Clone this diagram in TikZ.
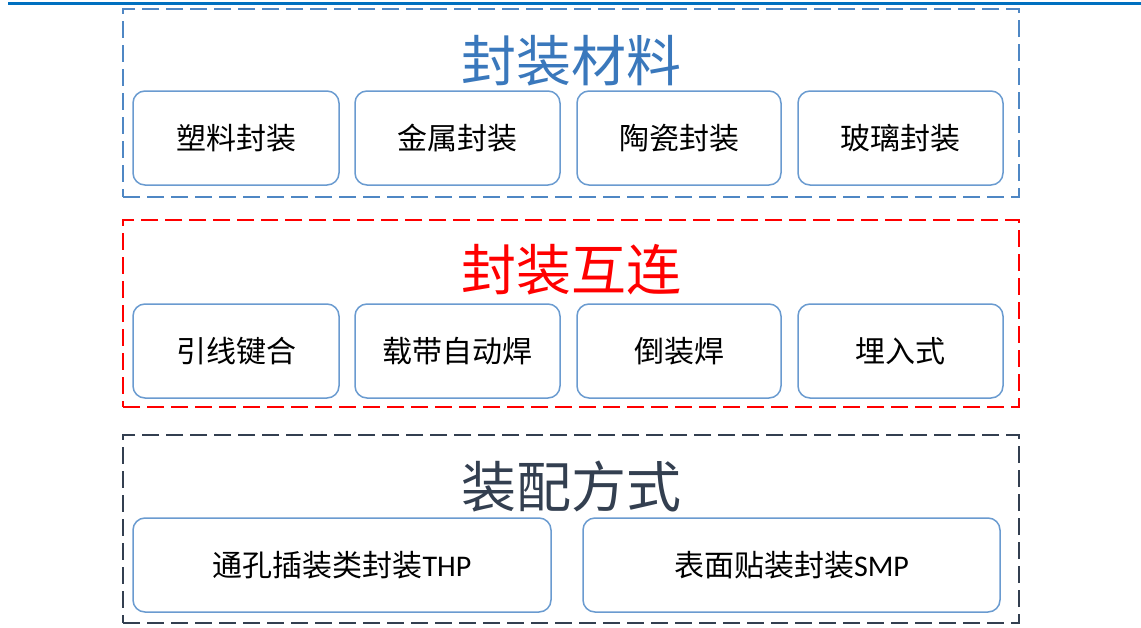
\documentclass[tikz,border=0pt]{standalone}
\usepackage{fontspec}
\setmainfont{Carlito}
\newfontfamily\cjk{Noto Sans CJK SC}
\begin{document}
\begin{tikzpicture}[x=1pt,y=-1pt,
  grp/.style={line width=2.7pt, dash pattern=on 17pt off 7pt},
  item/.style={draw=itemc, line width=1.5pt, rounded corners=12pt, fill=white, inner sep=0pt, font=\cjk\fontsize{30}{34}\selectfont, text=black},
  ttl/.style={font=\cjk\fontsize{55}{60}\selectfont, inner sep=0pt}]
\definecolor{topline}{HTML}{0070C0}
\definecolor{bluec}{HTML}{4F87C4}
\definecolor{itemc}{HTML}{6A9BD0}
\definecolor{titleblue}{HTML}{3A78BC}
\definecolor{darkc}{HTML}{333F50}
\useasboundingbox (0,0) rectangle (1141,627);
\fill[white] (0,0) rectangle (1141,627);
\coordinate (tl) at (8,3);
\coordinate (tr) at (1141,3);
\draw[topline, line width=3pt] (tl) -- (tr);
% group boxes
\node[draw=bluec, grp, minimum width=896pt, minimum height=188pt, inner sep=0pt] (g1) at (571,103) {};
\node[draw=red, grp, minimum width=896pt, minimum height=187pt, inner sep=0pt] (g2) at (571,313.5) {};
\node[draw=darkc, grp, minimum width=896pt, minimum height=188pt, inner sep=0pt] (g3) at (571,529) {};
% titles
\node[ttl, text=titleblue] (t1) at (571,61) {封装材料};
\node[ttl, text=red] (t2) at (571,270) {封装互连};
\node[ttl, text=darkc] (t3) at (571,487) {装配方式};
% row 1
\node[item, minimum width=206pt, minimum height=94pt] (a1) at (236,138) {塑料封装};
\node[item, minimum width=205pt, minimum height=94pt] (a2) at (457.5,138) {金属封装};
\node[item, minimum width=204pt, minimum height=94pt] (a3) at (679,138) {陶瓷封装};
\node[item, minimum width=205pt, minimum height=94pt] (a4) at (900.5,138) {玻璃封装};
% row 2
\node[item, minimum width=206pt, minimum height=94pt] (b1) at (236,351) {引线键合};
\node[item, minimum width=205pt, minimum height=94pt] (b2) at (457.5,351) {载带自动焊};
\node[item, minimum width=204pt, minimum height=94pt] (b3) at (679,351) {倒装焊};
\node[item, minimum width=205pt, minimum height=94pt] (b4) at (900.5,351) {埋入式};
% row 3
\node[item, minimum width=418pt, minimum height=94pt] (c1) at (342,565) {通孔插装类封装{\rmfamily THP}};
\node[item, minimum width=417pt, minimum height=94pt] (c2) at (791.5,565) {表面贴装封装{\rmfamily SMP}};
\end{tikzpicture}
\end{document}
